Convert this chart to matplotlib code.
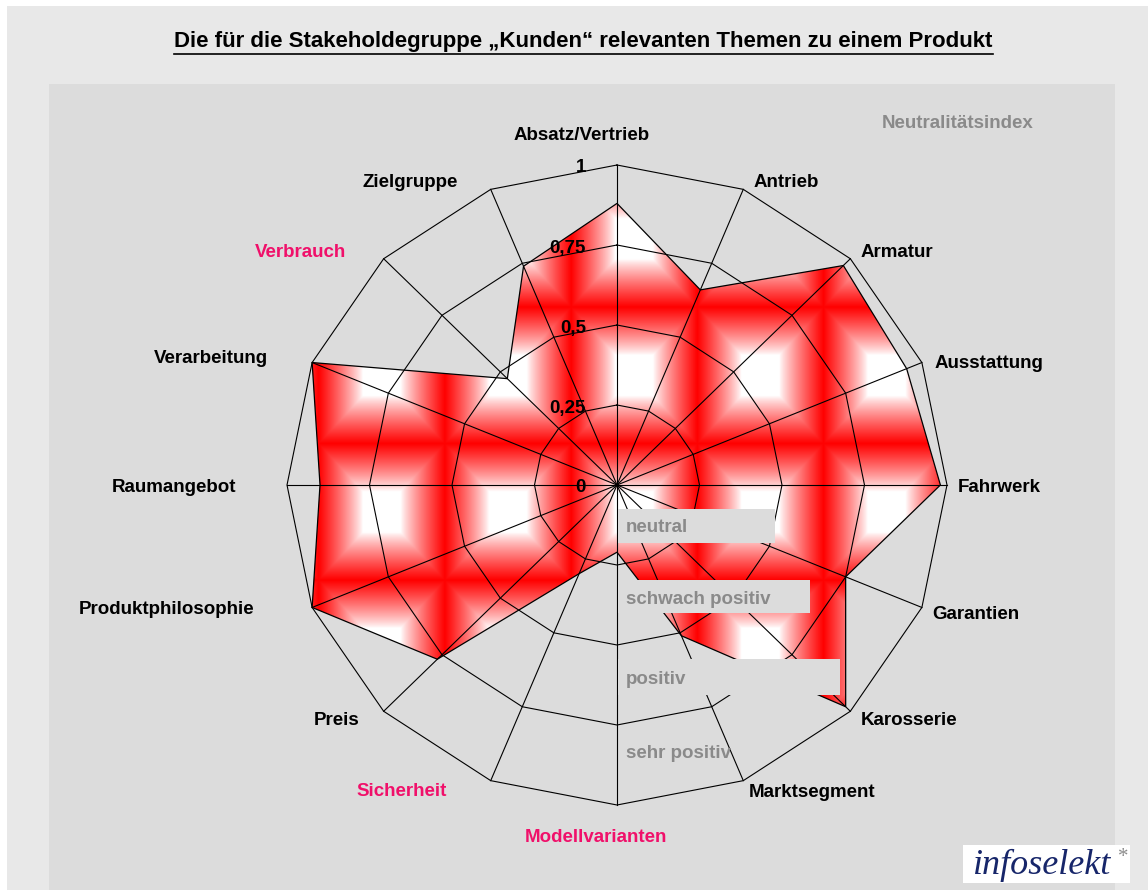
import numpy as np
import matplotlib
matplotlib.use("Agg")
import matplotlib.pyplot as plt
from matplotlib.patches import Polygon, Rectangle
from matplotlib.lines import Line2D

# ---------------- data ----------------
categories = ["Absatz/Vertrieb", "Antrieb", "Armatur", "Ausstattung", "Fahrwerk",
              "Garantien", "Karosserie", "Marktsegment", "Modellvarianten",
              "Sicherheit", "Preis", "Produktphilosophie", "Raumangebot",
              "Verarbeitung", "Verbrauch", "Zielgruppe"]
values = [0.88, 0.66, 0.97, 0.95, 0.98, 0.75, 0.98, 0.51, 0.21,
          0.30, 0.77, 1.00, 0.90, 1.00, 0.47, 0.74]
highlighted = ["Verbrauch", "Sicherheit", "Modellvarianten"]
ticks = [0, 0.25, 0.5, 0.75, 1]
tick_labels = ["0", "0,25", "0,5", "0,75", "1"]
scale_labels = ["neutral", "schwach positiv", "positiv", "sehr positiv"]
title = "Die für die Stakeholdegruppe „Kunden“ relevanten Themen zu einem Produkt"
index_label = "Neutralitätsindex"
logo = "infoselekt"

# ---------------- layout helpers ----------------
W, H = 1148, 890
CX, CY = 617, 485          # centre of radar (pixels)
SX, SY = 330, 320          # pixels per unit radius
FS = 13.5
plt.rcParams['font.family'] = ['Liberation Sans', 'DejaVu Sans']

fig = plt.figure(figsize=(W / 100, H / 100), dpi=100)
fig.patch.set_facecolor('white')
fig.patches.append(Rectangle((7 / W, 0), 1 - 7 / W, 1 - 6 / H, transform=fig.transFigure,
                             facecolor='#e8e8e8', edgecolor='none', zorder=-5))

ax = fig.add_axes([49 / W, 0, (1115 - 49) / W, 1 - 84 / H])
ax.set_facecolor('#dcdcdc')
for s in ax.spines.values():
    s.set_visible(False)
ax.set_xticks([])
ax.set_yticks([])
xlim = ((49 - CX) / SX, (1115 - CX) / SX)
ylim = ((CY - 890) / SY, (CY - 84) / SY)


def d(px, py):
    return (px - CX) / SX, (CY - py) / SY


n = len(categories)
theta = 2 * np.pi * np.arange(n) / n
ux, uy = np.sin(theta), np.cos(theta)

# ---------------- gradient fill (tiled rectangular gradient) ----------------
ext = 1.08
g = np.linspace(-ext, ext, 1100)
X, Y = np.meshgrid(g, g)
px_per = 0.3827
py_per = 0.4266
u = ((X - (-0.906)) / px_per) % 1.0
v = ((Y - 0.556) / py_per) % 1.0
du = np.abs(u - 0.5) * 2
dv = np.abs(v - 0.5) * 2
dd = np.maximum(du, dv)
t = np.clip((dd - 0.3) / 0.7, 0, 1) ** 0.85
rgb = np.dstack([np.ones_like(t), 1 - t, 1 - t])
im = ax.imshow(rgb, extent=(-ext, ext, -ext, ext), origin='lower', aspect='auto',
               interpolation='bilinear', zorder=1)

vals = np.array(values)
poly = Polygon(np.column_stack([vals * ux, vals * uy]), closed=True,
               facecolor='none', edgecolor='black', lw=0.9, zorder=2.6)
ax.add_patch(poly)
im.set_clip_path(poly)

# ---------------- grid ----------------
for lv in ticks[1:]:
    ax.plot(np.append(lv * ux, lv * ux[0]), np.append(lv * uy, lv * uy[0]),
            color='black', lw=0.8, zorder=2.5)
for k in range(n):
    ax.plot([0, ux[k]], [0, uy[k]], color='black', lw=0.8, zorder=2.5)

# tick labels
for tv, tl in zip(ticks, tick_labels):
    ax.annotate(tl, xy=(0, tv), xytext=(-31, -3), textcoords='offset pixels',
                ha='right', va='center', fontsize=FS, fontweight='bold',
                color='black', zorder=5)

# ---------------- category labels ----------------
label_offsets = [(-35, 30), (10, 7), (10, 6), (13, -1), (11, -2), (10, -7.5),
                 (10, -9), (5, -12), (-21, -33), (-44, -11), (-24, -9),
                 (-58, -2.5), (-51, -2), (-44, 4), (-38, 6), (-33, 7)]
for k, cat in enumerate(categories):
    ox, oy = label_offsets[k]
    if ox > 0:
        ha = 'left'
    elif k in (0, 8):
        ha = 'center'
    else:
        ha = 'right'
    col = '#f0106a' if cat in highlighted else 'black'
    ax.annotate(cat, xy=(ux[k], uy[k]), xytext=(ox, oy), textcoords='offset pixels',
                ha=ha, va='center', fontsize=FS, fontweight='bold', color=col,
                zorder=5, annotation_clip=False)

# ---------------- scale boxes ----------------
boxes = [(509, 543, 775), (580, 613, 810), (659, 695, 840), None]
text_y = [528, 600, 679, 753]
for lab, bx, ty in zip(scale_labels, boxes, text_y):
    if bx is not None:
        x0, y0 = d(618, bx[1])
        x1, y1 = d(bx[2], bx[0])
        ax.add_patch(Rectangle((x0, y0), x1 - x0, y1 - y0, facecolor='#dcdcdc',
                               edgecolor='none', zorder=3))
    tx, tyy = d(626, ty)
    ax.text(tx, tyy, lab, ha='left', va='center', fontsize=FS, fontweight='bold',
            color='#8a8a8a', zorder=4)

ix, iy = d(958, 124)
ax.text(ix, iy, index_label, ha='center', va='center', fontsize=FS,
        fontweight='bold', color='#8a8a8a', zorder=4)

ax.set_xlim(*xlim)
ax.set_ylim(*ylim)

# ---------------- logo ----------------
fig.patches.append(Rectangle((963 / W, 1 - 883 / H), (1130 - 963) / W, (883 - 845) / H,
                             transform=fig.transFigure, facecolor='white',
                             edgecolor='none', zorder=5))
fig.text(1042 / W, 1 - 865 / H, logo, ha='center', va='center', fontsize=26,
         family='Liberation Serif', style='italic', color='#17266a', zorder=6)
fig.text(1123 / W, 1 - 858 / H, "*", ha='center', va='center', fontsize=15,
         family='Liberation Serif', color='#8c8c8c', zorder=6)

# ---------------- title with underline ----------------
ttl = fig.text(583.5 / W, 1 - 42 / H, title, ha='center', va='center',
               fontsize=16, fontweight='bold', color='black')
fig.canvas.draw()
bb = ttl.get_window_extent(fig.canvas.get_renderer())
fig.add_artist(Line2D([bb.x0, bb.x1], [bb.y0 - 1, bb.y0 - 1], transform=None,
                      color='black', lw=1.2))

fig.savefig('out.png', dpi=100, facecolor=fig.get_facecolor())
